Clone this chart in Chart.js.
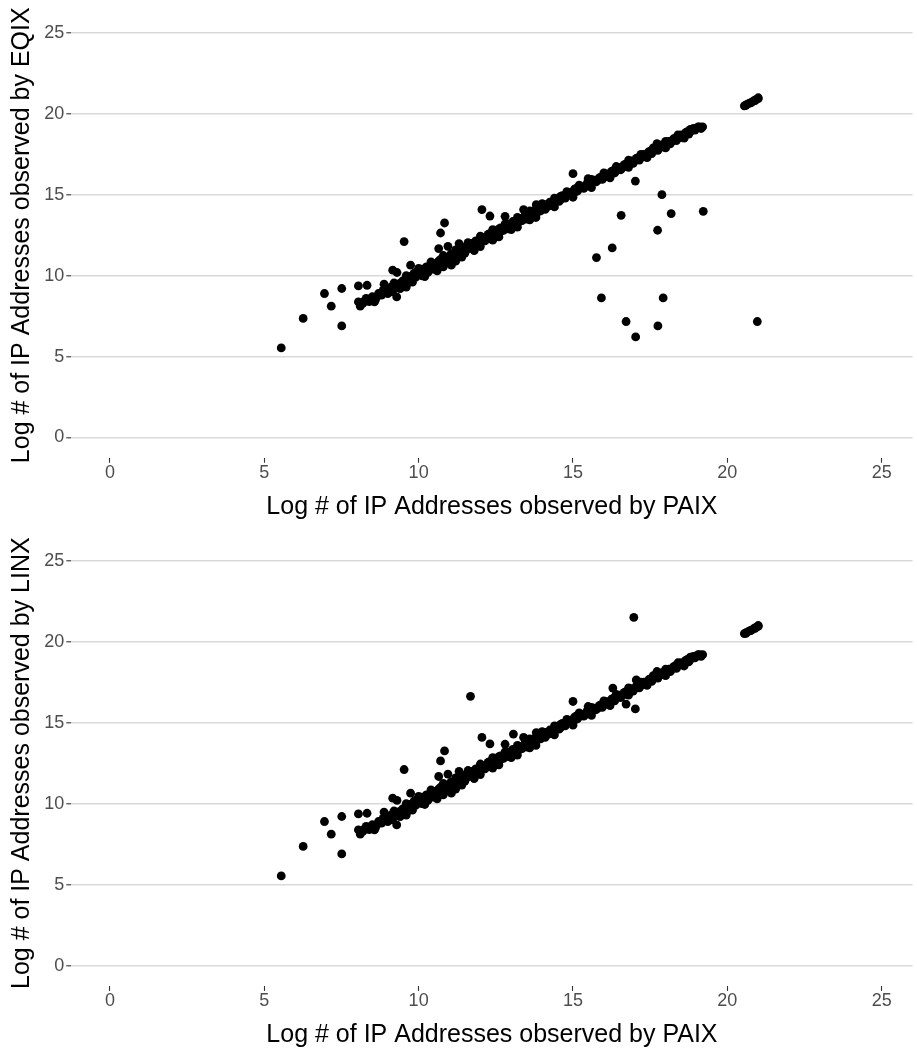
<!DOCTYPE html>
<html>
<head>
<meta charset="utf-8">
<script src="https://cdn.jsdelivr.net/npm/chart.js@4.4.0/dist/chart.umd.min.js"></script>
<style>
  html, body { margin: 0; padding: 0; background: #ffffff; }
  .panel { position: absolute; left: 0; width: 917px; }
  #p1 { top: 0; height: 525px; }
  #p2 { top: 525px; height: 526px; }
</style>
</head>
<body>
<div class="panel" id="p1"><canvas id="c1"></canvas></div>
<div class="panel" id="p2"><canvas id="c2"></canvas></div>
<script>
// ---- data ----
const xTicks = [0, 5, 10, 15, 20, 25];
const yTicks = [0, 5, 10, 15, 20, 25];
const xTitle = "Log # of IP Addresses observed by PAIX";
const yTitleTop = "Log # of IP Addresses observed by EQIX";
const yTitleBottom = "Log # of IP Addresses observed by LINX";

// dense main band (present in both panels)
const bandPoints = [
  [8.2,8.3],[8.3,8.6],[8.4,8.4],[8.5,8.7],[8.6,8.5],[8.7,8.9],[8.8,8.8],[8.9,9.0],[9.0,9.1],[9.0,8.9],
  [9.1,9.3],[9.2,9.2],[9.3,9.5],[9.3,9.3],[9.4,9.5],[9.5,9.7],[9.5,9.4],[9.6,9.8],[9.7,9.6],[9.7,9.9],
  [9.8,10.0],[9.9,9.9],[9.9,10.2],[10.0,10.1],[10.0,10.3],[10.1,10.0],[10.1,10.4],[10.2,10.3],[10.3,10.5],[10.3,10.2],
  [10.4,10.6],[10.5,10.4],[10.5,10.7],[10.6,10.8],[10.7,10.6],[10.7,11.0],[10.8,10.9],[10.9,11.1],[10.9,10.8],[11.0,11.2],
  [11.1,11.0],[11.1,11.3],[11.2,11.4],[11.3,11.3],[11.3,11.6],[11.4,11.5],[11.5,11.7],[11.5,11.4],[11.6,11.8],[11.7,11.7],
  [11.7,12.0],[11.8,11.9],[11.9,12.1],[12.0,12.0],[12.0,12.3],[12.1,12.2],[12.2,12.4],[12.3,12.3],[12.3,12.6],[12.4,12.5],
  [12.5,12.7],[12.6,12.6],[12.6,12.9],[12.7,12.8],[12.8,13.0],[12.9,12.9],[12.9,13.2],[13.0,13.1],[13.1,13.3],[13.2,13.2],
  [13.2,13.5],[13.3,13.4],[13.4,13.6],[13.5,13.5],[13.5,13.8],[13.6,13.7],[13.7,13.9],[13.8,13.8],[13.8,14.1],[13.9,14.0],
  [14.0,14.2],[14.1,14.1],[14.1,14.4],[14.2,14.3],[14.3,14.5],[14.4,14.5],[14.5,14.7],[14.6,14.7],[14.6,14.9],[14.7,14.9],
  [14.8,15.0],[14.9,15.0],[15.0,15.2],[15.1,15.2],[15.1,15.4],[15.2,15.4],[15.3,15.5],[15.4,15.5],[15.5,15.7],[15.6,15.7],
  [15.7,15.9],[15.8,15.9],[15.9,16.1],[16.0,16.1],[16.1,16.3],[16.2,16.3],[16.3,16.5],[16.4,16.5],[16.5,16.7],[16.6,16.7],
  [16.7,16.9],[16.8,16.9],[16.9,17.1],[17.0,17.1],[17.1,17.3],[17.2,17.3],[17.3,17.5],[17.4,17.5],[17.5,17.7],[17.6,17.7],
  [17.7,17.9],[17.8,17.9],[17.9,18.1],[18.0,18.1],[18.1,18.3],[18.2,18.3],[18.3,18.5],[18.4,18.5],[18.5,18.7],[18.6,18.7],
  [18.7,18.9],[18.8,18.9],[18.9,19.1],[19.0,19.1],[19.1,19.2],[19.2,19.2]
];

// further points thickening the band
const bandExtra = [
  [8.25,8.45],[8.45,8.6],[8.65,8.7],[8.85,9.1],[9.05,9.2],[9.15,9.0],[9.25,9.45],[9.45,9.6],[9.55,9.55],[9.65,9.95],
  [9.75,9.75],[9.85,10.15],[9.95,10.0],[10.05,10.35],[10.15,10.2],[10.25,10.55],[10.35,10.35],[10.45,10.75],[10.55,10.55],[10.65,10.9],
  [10.75,10.7],[10.85,11.1],[10.95,10.95],[11.05,11.35],[11.15,11.15],[11.25,11.5],[11.35,11.4],[11.45,11.75],[11.55,11.6],[11.65,11.95],
  [11.75,11.8],[11.85,12.15],[11.95,11.95],[12.05,12.35],[12.15,12.15],[12.25,12.55],[12.35,12.4],[12.45,12.75],[12.55,12.6],[12.65,12.95],
  [12.75,12.8],[12.85,13.15],[12.95,13.0],[13.05,13.35],[13.15,13.2],[13.25,13.55],[13.35,13.4],[13.45,13.75],[13.55,13.6],[13.65,13.95],
  [13.75,13.8],[13.85,14.15],[13.95,14.0],[14.05,14.35],[14.15,14.25],[14.25,14.55],[14.35,14.4],[14.45,14.75],[14.55,14.6],[14.65,14.95],
  [14.75,14.8],[14.85,15.15],[14.95,15.0],[15.05,15.35],[15.15,15.25],[15.25,15.5],[15.35,15.4],[15.45,15.7],[15.55,15.6],[15.65,15.85],
  [15.75,15.8],[15.85,16.05],[15.95,15.95],[16.05,16.25],[16.15,16.15],[16.25,16.45],[16.35,16.35],[16.45,16.65],[16.55,16.55],[16.65,16.85],
  [16.75,16.75],[16.85,17.05],[16.95,16.95],[17.05,17.25],[17.15,17.15],[17.25,17.45],[17.35,17.35],[17.45,17.65],[17.55,17.55],[17.65,17.85],
  [17.75,17.75],[17.85,18.05],[17.95,17.95],[18.05,18.25],[18.15,18.15],[18.25,18.45],[18.35,18.35],[18.45,18.65],[18.55,18.55],[18.65,18.85],
  [18.75,18.75],[18.85,19.05],[18.95,19.0],[19.05,19.2],[19.15,19.1],
  [9.6,9.3],[10.2,9.95],[10.6,10.3],[11.2,10.9],[11.8,11.55],[12.4,12.2],[13.0,12.85],[13.6,13.45]
];

// upper and lower edge points of the band
const bandEdge = [
  [9.2,9.55],[9.6,10.0],[10.0,10.45],[10.4,10.85],[10.8,11.25],[11.2,11.6],[11.6,12.05],[12.0,12.45],[12.4,12.85],
  [12.8,13.2],[13.2,13.6],[13.6,14.0],[14.0,14.45],[14.4,14.8],[14.8,15.2],[15.2,15.6],[15.6,15.95],[16.0,16.35],
  [16.4,16.75],[16.8,17.15],[17.2,17.5],[17.6,17.9],[18.0,18.3],[18.4,18.7],[18.8,19.05],
  [9.4,9.2],[9.8,9.6],[10.8,10.55],[11.4,11.15],[12.0,11.8],[12.6,12.4],[13.2,13.0],[13.8,13.6],
  [14.4,14.25],[15.0,14.85],[15.6,15.45],[16.2,16.05],[16.8,16.7],[17.4,17.3],[18.0,17.9],[18.6,18.5]
];

// small cluster near (21, 21)
const upperCluster = [
  [20.55,20.5],[20.62,20.58],[20.7,20.65],[20.78,20.72],[20.85,20.8],[20.92,20.88],[21.0,20.95],[21.0,21.0],
  [20.6,20.52],[20.75,20.68],[20.9,20.82]
];

// scattered points present in both panels
const sharedOutliers = [
  [5.55,5.54],[6.26,7.36],[6.95,8.90],[7.17,8.12],[7.51,9.21],[7.51,6.90],[8.05,9.37],[8.33,9.41],
  [8.05,8.38],[8.11,8.12],[8.57,8.38],[8.88,9.48],[9.29,8.69],[9.16,10.34],[9.3,10.2],[9.53,12.11],
  [9.74,10.65],[10.71,12.64],[10.84,13.26],[10.65,11.68],[10.95,11.82],[11.06,10.65],[11.31,11.99],
  [12.05,14.09],[12.31,13.69],[12.80,13.67],[13.40,14.09],[13.81,14.39],[15.0,16.31],[15.49,16.0],
  [17.02,15.85],[17.72,18.16]
];

// points only in the EQIX panel
const eqixOutliers = [
  [15.76,11.12],[16.27,11.72],[16.56,13.73],[17.74,12.81],[17.88,15.01],[18.18,13.84],[19.22,13.98],
  [15.92,8.63],[17.92,8.63],[16.72,7.17],[17.75,6.90],[17.03,6.22],[20.97,7.17]
];

// points only in the LINX panel
const linxOutliers = [
  [11.68,16.63],[16.97,21.5],[16.29,17.14],[16.72,16.15],[17.05,17.64],[13.07,14.30]
];

// ---- chart building ----
const FONT = '"Liberation Sans", Arial, sans-serif';
const toXY = arr => arr.map(p => ({x: p[0], y: p[1]}));

function makeChart(canvasId, yTitle, extra, geom) {
  const pts = [].concat(bandPoints, bandExtra, bandEdge, upperCluster, sharedOutliers, extra);
  return new Chart(document.getElementById(canvasId), {
    type: 'scatter',
    data: {
      datasets: [{
        data: toXY(pts),
        pointRadius: 4.4,
        pointHoverRadius: 4.4,
        pointBackgroundColor: '#000000',
        pointBorderWidth: 0,
        borderWidth: 0
      }]
    },
    options: {
      responsive: true,
      maintainAspectRatio: false,
      animation: false,
      devicePixelRatio: 1,
      events: [],
      layout: { padding: { top: geom.top, right: 0, bottom: 0, left: 0 } },
      plugins: { legend: { display: false }, tooltip: { enabled: false } },
      scales: {
        x: {
          type: 'linear',
          min: -1.25,
          max: 26.0,
          afterBuildTicks: s => { s.ticks = xTicks.map(v => ({ value: v })); },
          afterFit: s => { s.height = geom.xh; },
          grid: { drawOnChartArea: false, drawTicks: true, tickLength: 5, tickColor: '#333333', tickWidth: 1.1 },
          border: { display: false },
          ticks: { color: '#4d4d4d', font: { family: FONT, size: 18 }, padding: -1, maxRotation: 0, autoSkip: false },
          title: { display: true, text: xTitle, color: '#000000', font: { family: FONT, size: 25 }, padding: { top: 0, bottom: geom.tpad } }
        },
        y: {
          type: 'linear',
          min: -1.25,
          max: 26.25,
          afterBuildTicks: s => { s.ticks = yTicks.map(v => ({ value: v })); },
          afterFit: s => { s.width = 71.3; },
          grid: { color: '#d9d9d9', lineWidth: 1.6, drawTicks: true, tickLength: 5, tickColor: '#333333', tickWidth: 1.1 },
          border: { display: false },
          ticks: { color: '#4d4d4d', font: { family: FONT, size: 18 }, padding: 2, autoSkip: false },
          title: { display: true, text: yTitle, color: '#000000', font: { family: FONT, size: 25 }, padding: { top: 7, bottom: 0 } }
        }
      }
    }
  });
}

makeChart('c1', yTitleTop, eqixOutliers, { top: 12.25, xh: 67.25, tpad: 2.5 });
makeChart('c2', yTitleBottom, linxOutliers, { top: 15.45, xh: 65.05, tpad: 1 });
</script>
</body>
</html>
